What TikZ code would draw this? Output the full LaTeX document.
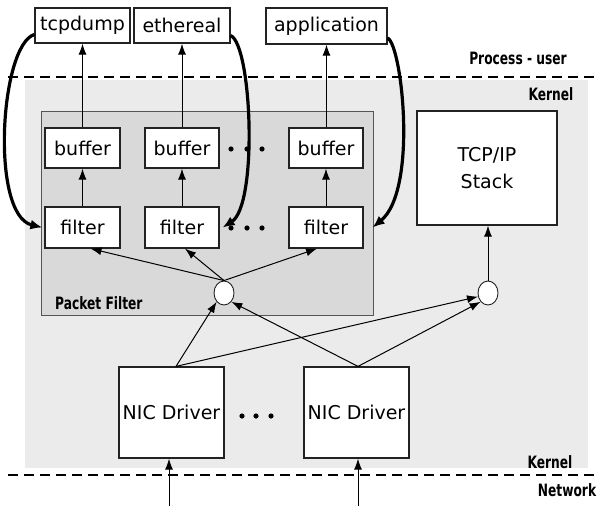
\documentclass[tikz,border=0pt]{standalone}
\usepackage{fontspec}
\setmainfont{DejaVu Sans}
\newfontfamily\lblfont{DejaVu Sans}[FakeStretch=0.72]
\usetikzlibrary{arrows.meta,shapes.geometric,calc}
\definecolor{kernelgray}{HTML}{EBEBEB}
\definecolor{pfgray}{HTML}{D9D9D9}
\definecolor{pfedge}{HTML}{555555}
\definecolor{edge}{HTML}{222222}
\tikzset{
  box/.style={draw=edge, line width=1.2pt, fill=white, inner sep=0pt,
    font=\fontsize{19}{27}\selectfont, align=center},
  hub/.style={ellipse, draw=edge, line width=0.9pt, fill=white,
    minimum width=20pt, minimum height=24pt, inner sep=0pt},
  flow/.style={-{Latex[length=11pt,width=8pt]}, line width=1pt},
  tap/.style={-{Latex[length=12pt,width=10pt]}, line width=3.2pt},
  zone/.style={font=\lblfont\bfseries\fontsize{17}{20}\selectfont, inner sep=0pt},
  boundary/.style={dash pattern=on 10pt off 6pt, line width=2.4pt},
}
\begin{document}
\begin{tikzpicture}[x=1pt,y=-1pt]
\useasboundingbox (0,0) rectangle (597,506);

% kernel area and user/kernel/network boundaries
\fill[kernelgray] (25,80) rectangle (588,468);
\draw[boundary] (8,77) -- (597,77);
\draw[boundary] (8,475) -- (597,475);

% packet filter region
\draw[draw=pfedge, fill=pfgray, line width=1pt] (41,111) rectangle (373,315);

% user processes
\node[box, minimum width=95pt, minimum height=35pt] (tcpdump) at (82.5,25.5) {tcpdump};
\node[box, minimum width=96pt, minimum height=35pt] (ethereal) at (182,25.5) {ethereal};
\node[box, minimum width=121pt, minimum height=36pt] (app) at (326.5,26) {application};

% buffers and filters
\node[box, minimum width=75pt, minimum height=40pt] (b1) at (82.5,148) {buffer};
\node[box, minimum width=74pt, minimum height=40pt] (b2) at (182,148) {buffer};
\node[box, minimum width=74pt, minimum height=40pt] (b3) at (326,148) {buffer};
\node[box, minimum width=75pt, minimum height=41pt] (f1) at (82.5,227.5) {filter};
\node[box, minimum width=74pt, minimum height=41pt] (f2) at (182,227.5) {filter};
\node[box, minimum width=74pt, minimum height=41pt] (f3) at (326,227.5) {filter};

% protocol stack
\node[box, minimum width=140pt, minimum height=114pt] (tcp) at (487,168) {TCP/IP\\Stack};

% drivers
\node[box, minimum width=105pt, minimum height=91pt] (n1) at (171.5,412.5) {NIC Driver};
\node[box, minimum width=105pt, minimum height=91pt] (n2) at (356.5,412.5) {NIC Driver};

% packet dispatch points
\node[hub] (c1) at (224,293) {};
\node[hub] (c2) at (488,293) {};

% ellipsis dots
\foreach \x in {231,247,262} {
  \fill (\x,149) circle (2.6pt);
  \fill (\x,228) circle (2.6pt);
}
\foreach \x in {242,256,271} \fill (\x,416) circle (2.6pt);

% labels
\node[zone] (procuser) at (518,58) {Process - user};
\node[zone] (kerneltop) at (551,94) {Kernel};
\node[zone, anchor=west] (pflabel) at (55,303) {Packet Filter};
\node[zone] (kernelbot) at (550,462) {Kernel};
\node[zone] (network) at (567,490) {Network};

% buffer -> process
\draw[flow] (b1.north) -- (b1.north |- tcpdump.south);
\draw[flow] (b2.north) -- (b2.north |- ethereal.south);
\draw[flow] ([xshift=0.5pt]b3.north) -- ([xshift=0.5pt]b3.north |- app.south);

% filter -> buffer
\draw[flow] (f1.north) -- (b1.south);
\draw[flow] (f2.north) -- (b2.south);
\draw[flow] (f3.north) -- (b3.south);

% dispatch -> filters
\draw[flow] (c1.north) -- ([xshift=8pt]f1.south);
\draw[flow] (c1.north) -- ([xshift=3pt]f2.south);
\draw[flow] (c1.north) -- ([xshift=-9pt]f3.south);
\draw[flow] (c2.north) -- (c2.north |- tcp.south);

% drivers -> dispatch
\draw[flow] ([xshift=4.5pt]n1.north) -- (c1.south west);
\draw[flow] ([xshift=4.5pt]n1.north) -- (c2.200);
\draw[flow] ([xshift=1.5pt]n2.north) -- (c1.south east);
\draw[flow] ([xshift=1.5pt]n2.north) -- (c2.south west);

% network input
\coordinate (net1) at (169,506);
\coordinate (net2) at (358,506);
\draw[flow] (net1) -- (net1 |- n1.south);
\draw[flow] (net2) -- (net2 |- n2.south);

% processes attaching their filters
\draw[tap] ([yshift=-9pt]tcpdump.west) .. controls (0,45) and (-10,215) .. ([xshift=-2pt]f1.west);
\draw[tap] ([yshift=-10pt]ethereal.east) .. controls (252,45) and (258,205) .. ([xshift=3pt]f2.east);
\draw[tap] ([yshift=-12pt]app.east) .. controls (402,45) and (418,190) .. ([xshift=9pt]f3.east);
\end{tikzpicture}
\end{document}
